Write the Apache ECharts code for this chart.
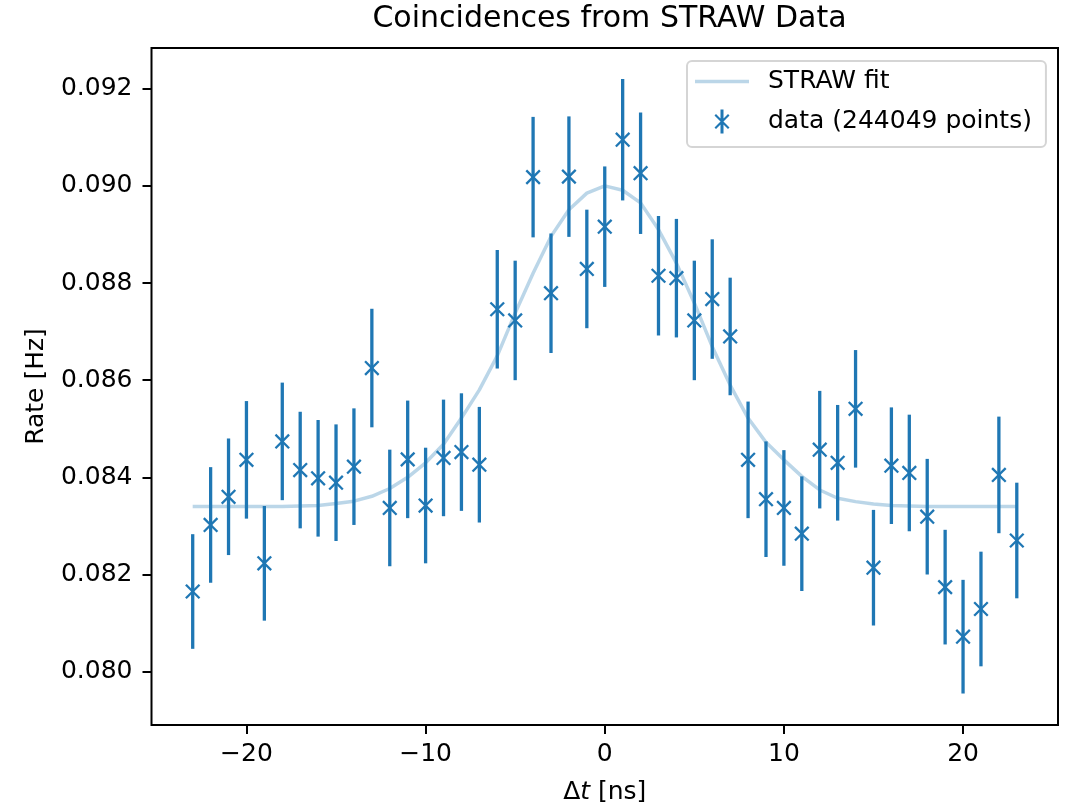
<!DOCTYPE html>
<html>
<head>
<meta charset="utf-8">
<script src="https://cdn.jsdelivr.net/npm/echarts@6/dist/echarts.min.js"></script>
<style>
html,body{margin:0;padding:0;background:#fff;}
#chart{width:1071px;height:804px;}
</style>
</head>
<body>
<div id="chart"></div>
<script>
var deltaT = [-23,-22,-21,-20,-19,-18,-17,-16,-15,-14,-13,-12,-11,-10,-9,-8,-7,-6,-5,-4,-3,-2,-1,0,1,2,3,4,5,6,7,8,9,10,11,12,13,14,15,16,17,18,19,20,21,22,23];
var rate = [0.08165,0.08302,0.08360,0.08436,0.08223,0.08474,0.08415,0.08398,0.08389,0.08422,0.08625,0.08337,0.08437,0.08342,0.08440,0.08452,0.08426,0.08746,0.08723,0.09018,0.08779,0.09019,0.08829,0.08916,0.09095,0.09026,0.08815,0.08810,0.08723,0.08767,0.08690,0.08436,0.08355,0.08337,0.08284,0.08457,0.08430,0.08541,0.08214,0.08424,0.08409,0.08319,0.08174,0.08072,0.08129,0.08405,0.08270];
var rateErr = [0.00118,0.00119,0.00120,0.00121,0.00118,0.00121,0.00120,0.00120,0.00120,0.00120,0.00122,0.00120,0.00121,0.00119,0.00120,0.00121,0.00119,0.00122,0.00123,0.00124,0.00123,0.00124,0.00122,0.00124,0.00125,0.00125,0.00123,0.00122,0.00123,0.00123,0.00121,0.00120,0.00119,0.00119,0.00118,0.00121,0.00119,0.00121,0.00119,0.00120,0.00120,0.00119,0.00118,0.00117,0.00118,0.00120,0.00119];
var fitRate = [0.08340,0.08340,0.08340,0.08340,0.08340,0.08340,0.08341,0.08342,0.08346,0.08351,0.08361,0.08377,0.08400,0.08430,0.08468,0.08522,0.08580,0.08650,0.08738,0.08820,0.08896,0.08951,0.08985,0.09000,0.08991,0.08965,0.08910,0.08841,0.08759,0.08669,0.08590,0.08522,0.08472,0.08436,0.08402,0.08374,0.08357,0.08350,0.08345,0.08342,0.08341,0.08340,0.08340,0.08340,0.08340,0.08340,0.08340];
var xTicks = [-20,-10,0,10,20];
var yTicks = [0.080,0.082,0.084,0.086,0.088,0.090,0.092];
var titleText = 'Coincidences from STRAW Data';
var fitName = 'STRAW fit';
var dataName = 'data (244049 points)';

var BLUE = '#1f77b4';
var FIT = 'rgba(31,119,180,0.3)';
var FONT = 'DejaVu Sans';

var fitData = deltaT.map(function(x,i){return [x, fitRate[i]];});
var errData = deltaT.map(function(x,i){return [x, rate[i], rateErr[i]];});

var chart = echarts.init(document.getElementById('chart'), null, {renderer:'canvas'});
chart.setOption({
  animation:false,
  backgroundColor:'#fff',
  title:{
    text:titleText, left:604.5, top:-1, textAlign:'center',
    textStyle:{fontFamily:FONT, fontSize:30, fontWeight:'normal', color:'#000'}
  },
  grid:{left:151.5, right:13, top:48, bottom:79, containLabel:false, outerBoundsMode:'none',
    show:true, borderColor:'#000', borderWidth:2, backgroundColor:'transparent'},
  legend:{
    orient:'vertical', left:687, top:61,
    itemWidth:54, itemHeight:24, itemGap:15,
    padding:[8,14,13,8],
    backgroundColor:'#fff', borderColor:'#d5d5d5', borderWidth:2, borderRadius:5,
    textStyle:{fontFamily:FONT, fontSize:25, color:'#000', padding:[0,0,0,14]},
    data:[
      {name:fitName, icon:'path://M0,0L54,0L54,3.5L0,3.5Z', itemStyle:{color:FIT}},
      {name:dataName, icon:'path://M6,0L9,0L9,24L6,24Z M0,6L1.5,4.5L15,18L13.5,19.5Z M13.5,4.5L15,6L1.5,19.5L0,18Z', itemStyle:{color:BLUE}}
    ]
  },
  xAxis:{
    type:'value', min:-25.3, max:25.3,
    name:'{d|Δ}{t|t} [ns]', nameLocation:'middle', nameGap:55,
    nameTextStyle:{fontFamily:FONT, fontSize:25, color:'#000',
      rich:{d:{fontFamily:FONT,fontSize:25,color:'#000'}, t:{fontFamily:FONT,fontSize:25,fontStyle:'italic',color:'#000'}}},
    axisLine:{show:false, onZero:false},
    axisTick:{show:true, inside:false, length:9, lineStyle:{color:'#000', width:2}, customValues:xTicks},
    axisLabel:{show:true, margin:17, fontFamily:FONT, fontSize:25, color:'#000', customValues:xTicks,
      formatter:function(v){return v<0 ? '\u2212'+Math.abs(v) : String(v);}},
    splitLine:{show:false}
  },
  yAxis:{
    type:'value', min:0.078902, max:0.092838,
    name:'Rate [Hz]', nameLocation:'middle', nameGap:102.5,
    nameTextStyle:{fontFamily:FONT, fontSize:25, color:'#000'},
    axisLine:{show:false, onZero:false},
    axisTick:{show:true, inside:false, length:9, lineStyle:{color:'#000', width:2}, customValues:yTicks},
    axisLabel:{show:true, margin:19, fontFamily:FONT, fontSize:25, color:'#000', customValues:yTicks,
      formatter:function(v){return v.toFixed(3);}},
    splitLine:{show:false}
  },
  series:[
    {
      name:fitName, type:'line', data:fitData, symbol:'none', smooth:false,
      lineStyle:{color:FIT, width:3.5}, itemStyle:{color:FIT}, z:2
    },
    {
      name:dataName, type:'custom', data:errData, encode:{x:0, y:1},
      itemStyle:{color:BLUE}, z:3,
      renderItem:function(params, api){
        var x = api.value(0), y = api.value(1), e = api.value(2);
        var c = api.coord([x,y]);
        var lo = api.coord([x,y-e]);
        var hi = api.coord([x,y+e]);
        var s = 6.8;
        return {type:'group', children:[
          {type:'line', shape:{x1:c[0],y1:lo[1],x2:c[0],y2:hi[1]}, style:{stroke:BLUE, lineWidth:3.3}},
          {type:'line', shape:{x1:c[0]-s,y1:c[1]-s,x2:c[0]+s,y2:c[1]+s}, style:{stroke:BLUE, lineWidth:2.3}},
          {type:'line', shape:{x1:c[0]-s,y1:c[1]+s,x2:c[0]+s,y2:c[1]-s}, style:{stroke:BLUE, lineWidth:2.3}}
        ]};
      }
    }
  ]
});
</script>
</body>
</html>
